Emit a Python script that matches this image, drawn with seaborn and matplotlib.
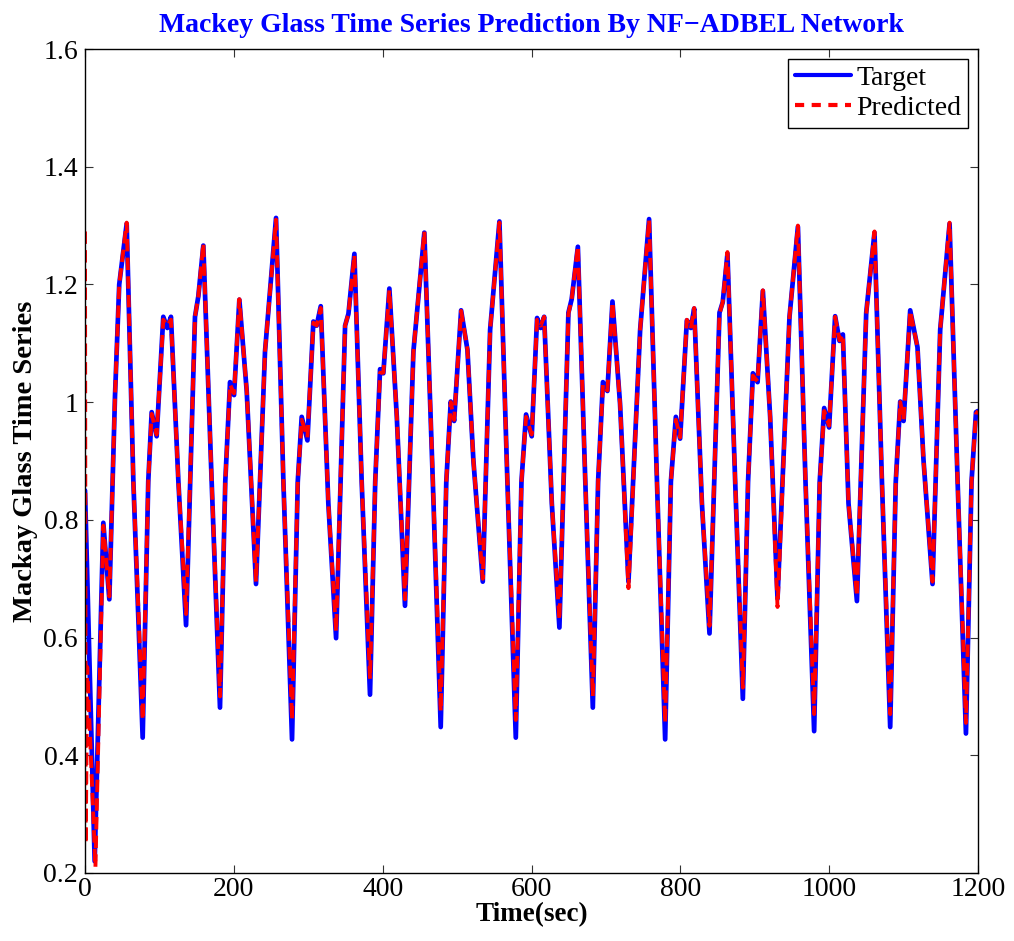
import matplotlib
matplotlib.use("Agg")
import matplotlib.pyplot as plt
import seaborn as sns
import pandas as pd
from matplotlib.ticker import FuncFormatter
from matplotlib.lines import Line2D

# ---------------- data ----------------
target_time = [0, 13, 24.6, 32.7, 40.3, 46, 56, 65, 77.5, 85, 89.6, 96.3, 105.2, 110.6, 115.5,
               125.5, 135.8, 147.8, 152.3, 159, 170.2, 181.4, 188.5, 194.9, 200.3, 207.4, 217.3,
               229.8, 241.9, 256.7, 266.6, 278.2, 285.9, 291.2, 298.9, 306.9, 311.3, 316.8, 327,
               337.4, 349.5, 354, 362, 371.8, 383, 390, 396.5, 400.9, 409, 419, 430, 441.3, 456,
               467.4, 478, 485.5, 491.5, 496, 505.4, 513.9, 521.9, 534.5, 544.4, 556.9, 567.6,
               578.9, 586.5, 592.7, 600.3, 607.5, 612.3, 617, 627.3, 637.5, 649.6, 654, 662.3,
               672.3, 682.4, 689.5, 696, 702, 708.8, 719, 730.3, 746, 758, 768.6, 779.6, 787.3,
               794, 799.7, 808.8, 814.1, 818.6, 829, 839.2, 852.6, 857, 863.3, 873.7, 884, 891,
               897.5, 903.8, 910.9, 920.7, 930.6, 946.7, 958, 968.2, 979.8, 987.3, 993.3, 999.9,
               1008, 1013.9, 1018.4, 1026, 1037.3, 1049.8, 1060.9, 1070.9, 1082, 1089.5, 1095.5,
               1100, 1108.9, 1118.7, 1126.8, 1138.9, 1149.2, 1161.8, 1172.6, 1183.8, 1191.3,
               1197.3, 1200]
target_value = [0.85, 0.22, 0.795, 0.665, 1.01, 1.20, 1.303, 0.865, 0.43, 0.865, 0.983, 0.942, 1.145, 1.126, 1.145,
                0.865, 0.621, 1.145, 1.18, 1.266, 0.865, 0.481, 0.865, 1.034, 1.012, 1.174, 1.019,
                0.691, 1.086, 1.313, 0.865, 0.427, 0.865, 0.975, 0.935, 1.137, 1.13, 1.163, 0.828,
                0.599, 1.13, 1.15, 1.252, 0.865, 0.503, 0.865, 1.056, 1.049, 1.193, 0.975, 0.654, 1.086, 1.288,
                0.865, 0.448, 0.865, 1.001, 0.968, 1.156, 1.089, 0.901, 0.695, 1.123, 1.307, 0.865,
                0.43, 0.865, 0.979, 0.942, 1.143, 1.126, 1.145, 0.828, 0.617, 1.152, 1.175, 1.264,
                0.865, 0.481, 0.865, 1.034, 1.019, 1.171, 0.997, 0.695, 1.123, 1.311, 0.865, 0.427, 0.865,
                0.975, 0.938, 1.139, 1.126, 1.159, 0.828, 0.607, 1.152, 1.17, 1.252, 0.865, 0.496, 0.865,
                1.049, 1.034, 1.189, 0.975, 0.666, 1.145, 1.298, 0.865, 0.441, 0.865, 0.99, 0.957,
                1.146, 1.104, 1.115, 0.828, 0.662, 1.152, 1.288, 0.865, 0.448, 0.865, 1.001,
                0.968, 1.156, 1.093, 0.901, 0.691, 1.123, 1.303, 0.865, 0.437, 0.865,
                0.983, 0.985]

pred_time = [0, 1, 3, 14, 24.6, 32.7, 40.3, 46, 56, 65, 77.5, 85, 89.6, 96.3, 105.2, 110.6, 115.5,
             125.5, 135.8, 147.8, 152.3, 159, 170.2, 181.4, 188.5, 194.9, 200.3, 207.4, 217.3,
             229.8, 241.9, 256.7, 266.6, 278.2, 285.9, 291.2, 298.9, 306.9, 311.3, 316.8, 327,
             337.4, 349.5, 354, 362, 371.8, 383, 390, 396.5, 400.9, 409, 419, 430, 441.3, 456,
             467.4, 478, 485.5, 491.5, 496, 505.4, 513.9, 521.9, 534.5, 544.4, 556.9, 567.6,
             578.9, 586.5, 592.7, 600.3, 607.5, 612.3, 617, 627.3, 637.5, 649.6, 654, 662.3,
             672.3, 682.4, 689.5, 696, 702, 708.8, 719, 730.3, 746, 758, 768.6, 779.6, 787.3,
             794, 799.7, 808.8, 814.1, 818.6, 829, 839.2, 852.6, 857, 863.3, 873.7, 884, 891,
             897.5, 903.8, 910.9, 920.7, 930.6, 946.7, 958, 968.2, 979.8, 987.3, 993.3, 999.9,
             1008, 1013.9, 1018.4, 1026, 1037.3, 1049.8, 1060.9, 1070.9, 1082, 1089.5, 1095.5,
             1100, 1108.9, 1118.7, 1126.8, 1138.9, 1149.2, 1161.8, 1172.6, 1183.8, 1191.3,
             1197.3, 1200]
pred_value = [1.29, 0.25, 0.55, 0.21, 0.79, 0.67, 1.01, 1.20, 1.305, 0.865, 0.46, 0.865, 0.98, 0.945, 1.14, 1.13, 1.14,
              0.865, 0.64, 1.145, 1.18, 1.27, 0.865, 0.50, 0.865, 1.03, 1.015, 1.175, 1.02,
              0.695, 1.086, 1.31, 0.865, 0.46, 0.865, 0.97, 0.94, 1.135, 1.13, 1.16, 0.828,
              0.61, 1.13, 1.15, 1.25, 0.865, 0.53, 0.865, 1.05, 1.05, 1.19, 0.975, 0.665, 1.086, 1.29,
              0.865, 0.475, 0.865, 1.0, 0.97, 1.155, 1.09, 0.901, 0.70, 1.123, 1.305, 0.865,
              0.46, 0.865, 0.975, 0.945, 1.14, 1.13, 1.145, 0.828, 0.63, 1.15, 1.175, 1.265,
              0.865, 0.50, 0.865, 1.03, 1.02, 1.17, 0.997, 0.684, 1.123, 1.31, 0.865, 0.455, 0.865,
              0.97, 0.94, 1.14, 1.125, 1.16, 0.828, 0.62, 1.15, 1.17, 1.255, 0.865, 0.515, 0.865,
              1.045, 1.035, 1.19, 0.975, 0.652, 1.145, 1.30, 0.865, 0.47, 0.865, 0.985, 0.96,
              1.145, 1.105, 1.115, 0.828, 0.67, 1.15, 1.29, 0.865, 0.47, 0.865, 1.0,
              0.97, 1.155, 1.093, 0.901, 0.695, 1.123, 1.305, 0.865, 0.455, 0.865,
              0.98, 0.985]

x_ticks = [0, 200, 400, 600, 800, 1000, 1200]
y_ticks = [0.2, 0.4, 0.6, 0.8, 1.0, 1.2, 1.4, 1.6]
title_text = "Mackey Glass Time Series Prediction By NF\u2212ADBEL Network"
x_label = "Time(sec)"
y_label = "Mackay Glass Time Series"
legend_labels = ["Target", "Predicted"]

# ---------------- plotting ----------------
sns.set_style("ticks")
plt.rcParams["font.family"] = ["Liberation Serif", "DejaVu Serif"]
plt.rcParams["text.color"] = "black"
plt.rcParams["axes.labelcolor"] = "black"
plt.rcParams["xtick.color"] = "#333333"
plt.rcParams["ytick.color"] = "#333333"
plt.rcParams["xtick.labelcolor"] = "black"
plt.rcParams["ytick.labelcolor"] = "black"

fig = plt.figure(figsize=(10.14, 9.41), dpi=100)
ax = fig.add_axes([85 / 1014, 1 - 873 / 941, (978 - 85) / 1014, (873 - 49) / 941])

df_t = pd.DataFrame({"t": target_time, "v": target_value})
df_p = pd.DataFrame({"t": pred_time, "v": pred_value})

sns.lineplot(data=df_t, x="t", y="v", ax=ax, color="#0000ff", linewidth=3.4,
             sort=False, estimator=None, label=legend_labels[0])
sns.lineplot(data=df_p, x="t", y="v", ax=ax, color="#ff0000", linewidth=2.8,
             sort=False, estimator=None, label=legend_labels[1])
ax.lines[1].set_dashes([3.2, 1.6])
for ln in ax.lines:
    ln.set_solid_joinstyle("round")
    ln.set_dash_joinstyle("round")

ax.set_xlim(0, 1200)
ax.set_ylim(0.2, 1.6)
ax.set_xticks(x_ticks)
ax.set_yticks(y_ticks)
ax.yaxis.set_major_formatter(FuncFormatter(lambda v, p: f"{v:g}"))
ax.tick_params(axis="both", which="both", direction="in", top=True, right=True,
               length=6, width=0.8, labelsize=20, pad=5)
ax.tick_params(axis="x", pad=3)
for s in ax.spines.values():
    s.set_visible(True)
    s.set_color("black")
    s.set_linewidth(1.0)

ax.set_xlabel(x_label, fontsize=19.5, fontweight="bold", labelpad=0)
ax.set_ylabel(y_label, fontsize=20.5, fontweight="bold", labelpad=4)
ax.set_title(title_text, fontsize=20, fontweight="bold", color="#0000ff", pad=12)

handles = [Line2D([], [], color="#0000ff", lw=3.0),
           Line2D([], [], color="#ff0000", lw=3.0, dashes=[2.2, 1.8])]
leg = ax.legend(handles, legend_labels, loc="upper right", fontsize=20, frameon=True,
                fancybox=False, edgecolor="black", framealpha=1, borderpad=0.25,
                handlelength=2.0, handletextpad=0.2, labelspacing=0.15,
                borderaxespad=0.35)
leg.get_frame().set_linewidth(1.0)

fig.savefig("out.png", dpi=100)
